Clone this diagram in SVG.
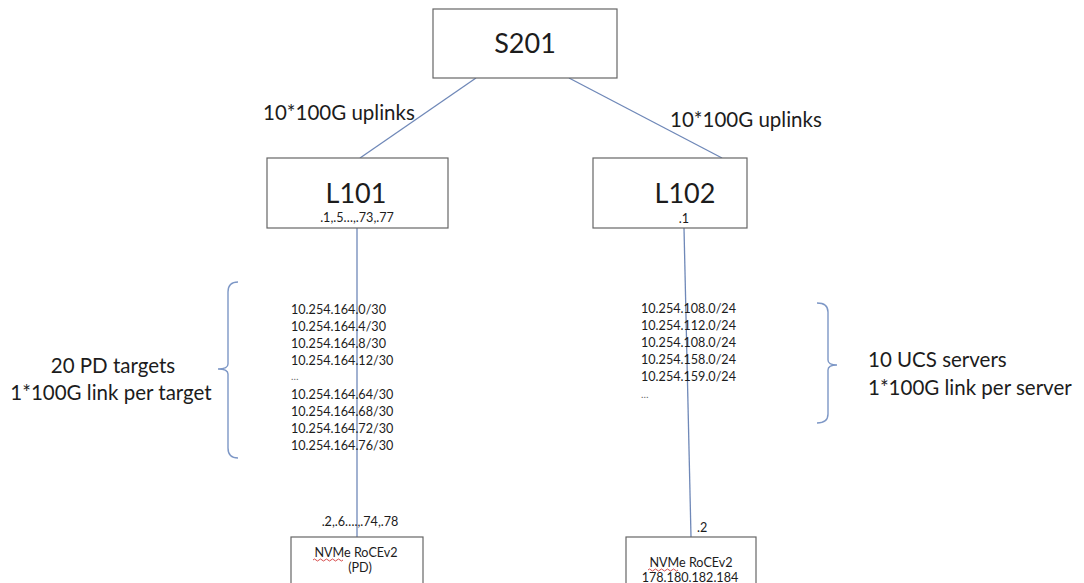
<svg xmlns="http://www.w3.org/2000/svg" width="1084" height="583" viewBox="0 0 1084 583">
  <style>
    .box { fill: #ffffff; stroke: #666666; stroke-width: 1.2; }
    .link { fill: none; stroke: #6f88b8; stroke-width: 1.3; }
    .brace { fill: none; stroke: #7d97c6; stroke-width: 1.4; }
    .t { font-family: Lato, "Liberation Sans", sans-serif; fill: #1c1c1c; }
    .big { font-size: 27px; text-anchor: middle; }
    .lbl { font-size: 20.5px; }
    .ip { font-size: 12.6px; }
    .dots { font-size: 10px; fill: #666666; }
    .mid { text-anchor: middle; }
    .squiggle { fill: none; stroke: #d23a3a; stroke-width: 0.9; }
  </style>

  <rect width="1084" height="583" fill="#ffffff"/>

  <!-- connectors -->
  <g id="connectors">
    <line class="link" x1="476" y1="78" x2="360" y2="158"/>
    <line class="link" x1="569" y1="78" x2="722" y2="158"/>
    <line class="link" x1="357" y1="228" x2="357" y2="537"/>
    <line class="link" x1="684" y1="228" x2="691" y2="537"/>
  </g>

  <!-- spine -->
  <g id="S201">
    <rect class="box" x="433" y="9" width="184" height="69"/>
    <text class="t big" x="525" y="53">S201</text>
  </g>

  <!-- uplink labels -->
  <text class="t lbl" x="263" y="120">10*100G uplinks</text>
  <text class="t lbl" x="670" y="127">10*100G uplinks</text>

  <!-- leaves -->
  <g id="L101">
    <rect class="box" x="267" y="158" width="181" height="70"/>
    <text class="t big" x="356" y="203">L101</text>
    <text class="t ip mid" x="357" y="222">.1,.5…,.73,.77</text>
  </g>
  <g id="L102">
    <rect class="box" x="593" y="158" width="154" height="70"/>
    <text class="t big" x="685" y="203">L102</text>
    <text class="t ip mid" x="684" y="223">.1</text>
  </g>

  <!-- PD target subnets -->
  <g id="pd-subnets" class="t ip">
    <text x="291" y="314">10.254.164.0/30</text>
    <text x="291" y="331">10.254.164.4/30</text>
    <text x="291" y="348">10.254.164.8/30</text>
    <text x="291" y="365">10.254.164.12/30</text>
    <text class="dots" x="291" y="380">…</text>
    <text x="291" y="399">10.254.164.64/30</text>
    <text x="291" y="416">10.254.164.68/30</text>
    <text x="291" y="433">10.254.164.72/30</text>
    <text x="291" y="450">10.254.164.76/30</text>
  </g>

  <!-- PD targets brace and label -->
  <g id="pd-group">
    <path class="brace" d="M238,282 Q228,282 228,292 L228,364 Q228,369 218,369 Q228,369 228,374 L228,448 Q228,458 238,458"/>
    <text class="t lbl mid" x="113" y="373">20 PD targets</text>
    <text class="t lbl mid" x="111" y="400">1*100G link per target</text>
  </g>

  <!-- UCS server subnets -->
  <g id="ucs-subnets" class="t ip">
    <text x="641" y="313">10.254.108.0/24</text>
    <text x="641" y="330">10.254.112.0/24</text>
    <text x="641" y="347">10.254.108.0/24</text>
    <text x="641" y="364">10.254.158.0/24</text>
    <text x="641" y="381">10.254.159.0/24</text>
    <text class="dots" x="641" y="398">…</text>
  </g>

  <!-- UCS servers brace and label -->
  <g id="ucs-group">
    <path class="brace" d="M817,303 Q828,303 828,312 L828,360 Q828,365 837,365 Q828,365 828,370 L828,414 Q828,423 817,423"/>
    <text class="t lbl" x="868" y="367">10 UCS servers</text>
    <text class="t lbl" x="868" y="395">1*100G link per server</text>
  </g>

  <!-- storage endpoints -->
  <g id="pd-target">
    <text class="t ip mid" x="360" y="526">.2,.6….,.74,.78</text>
    <rect class="box" x="291" y="537" width="132" height="60"/>
    <text class="t ip mid" x="356" y="557">NVMe RoCEv2</text>
    <path class="squiggle" d="M313,560 q1.5,-2 3,0 t3,0 t3,0 t3,0 t3,0 t3,0 t3,0 t3,0 t3,0 t3,0"/>
    <text class="t ip mid" x="360" y="572">(PD)</text>
  </g>
  <g id="ucs-server">
    <text class="t ip" x="697" y="532">.2</text>
    <rect class="box" x="626" y="537" width="130" height="60"/>
    <text class="t ip mid" x="691" y="567">NVMe RoCEv2</text>
    <path class="squiggle" d="M648,570 q1.5,-2 3,0 t3,0 t3,0 t3,0 t3,0 t3,0 t3,0 t3,0 t3,0 t3,0"/>
    <text class="t ip mid" x="690" y="582">178.180.182.184</text>
  </g>
</svg>
